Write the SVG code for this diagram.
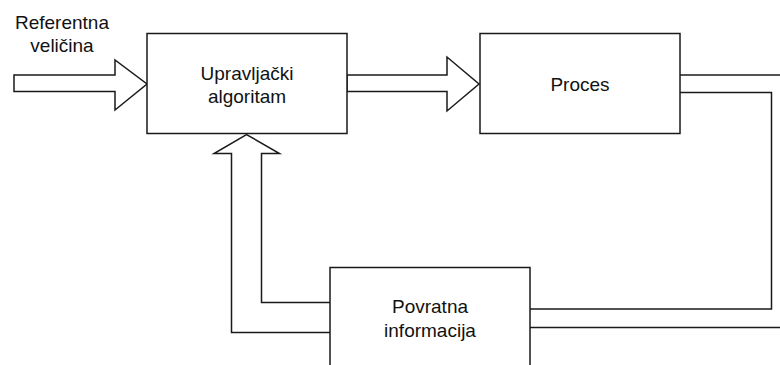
<svg xmlns="http://www.w3.org/2000/svg" width="780" height="365" viewBox="0 0 780 365">
<style>
.box{fill:#fff;stroke:#1a1a1a;stroke-width:1.5}
.arr{fill:#fff;stroke:#1a1a1a;stroke-width:1.5;stroke-linejoin:miter}
.ln{fill:none;stroke:#1a1a1a;stroke-width:1.5}
text{font-family:"Liberation Sans",Arial,sans-serif;font-size:19px;fill:#111;text-anchor:middle}
</style>
<rect width="780" height="365" fill="#fff"/>
<g id="connectors">
<path class="arr" d="M14,75 L115,75 L115,60 L147,84 L115,110 L115,91.5 L14,91.5 Z"/>
<path class="arr" d="M347,75 L447,75 L447,57 L479,84 L447,111 L447,91.5 L347,91.5 Z"/>
<path class="ln" d="M680,75 L780,75"/>
<path class="ln" d="M680,92.5 L771.5,92.5 L771.5,309 L530,309"/>
<path class="ln" d="M530,327.5 L780,327.5"/>
<path class="arr" d="M330,332.5 L231.5,332.5 L231.5,153.5 L214,153.5 L246.5,134.5 L279.5,153.5 L261.5,153.5 L261.5,302.5 L330,302.5"/>
</g>
<g id="referentna">
<text x="62" y="29">Referentna</text>
<text x="62" y="52">veličina</text>
</g>
<g id="upravljacki">
<rect class="box" x="147" y="33.5" width="200" height="100"/>
<text x="247" y="80">Upravljački</text>
<text x="247" y="103">algoritam</text>
</g>
<g id="proces">
<rect class="box" x="480" y="33.5" width="200" height="100"/>
<text x="580" y="91">Proces</text>
</g>
<g id="povratna">
<rect class="box" x="330" y="267.5" width="200" height="110"/>
<text x="430" y="313">Povratna</text>
<text x="430" y="337">informacija</text>
</g>
</svg>
